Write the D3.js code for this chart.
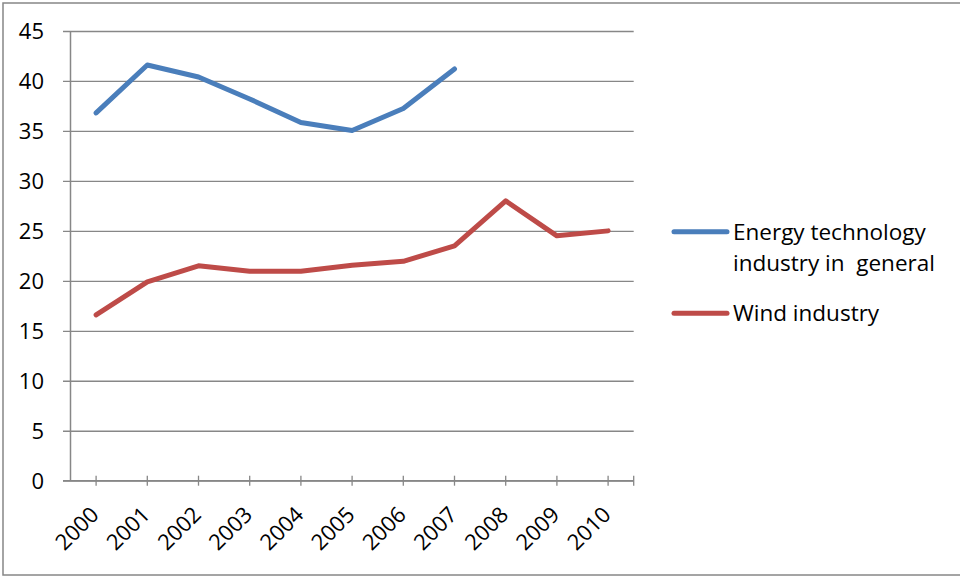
<!DOCTYPE html>
<html>
<head>
<meta charset="utf-8">
<script src="https://cdn.jsdelivr.net/npm/d3@7"></script>
<style>
  html, body { margin: 0; padding: 0; background: #fff; }
  svg { display: block; }
  text { font-family: "Open Sans", sans-serif; fill: #000; }
</style>
</head>
<body>
<svg id="chart" width="960" height="577"></svg>
<script>
const years = ["2000","2001","2002","2003","2004","2005","2006","2007","2008","2009","2010"];
const energyValues = [36.8, 41.6, 40.4, 38.2, 35.85, 35.05, 37.25, 41.2, null, null, null];
const windValues = [16.6, 19.9, 21.5, 20.95, 20.95, 21.55, 21.95, 23.5, 28.0, 24.5, 25.0];
const yTicks = [0, 5, 10, 15, 20, 25, 30, 35, 40, 45];
const seriesNames = ["Energy technology|industry in  general", "Wind industry"];
const seriesColors = ["#4A7EBB", "#BE4B48"];

const svg = d3.select("#chart");
const gridColor = "#878787";

// outer border
svg.append("rect")
  .attr("x", 3).attr("y", 3).attr("width", 970).attr("height", 572)
  .attr("fill", "none").attr("stroke", gridColor).attr("stroke-width", 1.5);

const x = d3.scaleBand().domain(years).range([70.5, 633.7]);
const y = d3.scaleLinear().domain([0, 45]).range([480.7, 31]);
const cx = d => x(d) + x.bandwidth() / 2;

// gridlines + y ticks
const yAxis = d3.axisLeft(y).tickValues(yTicks).tickSize(7).tickFormat("");
const gy = svg.append("g").attr("transform", "translate(70,0)").call(yAxis);
gy.select(".domain").remove();
gy.selectAll(".tick line").attr("stroke", gridColor).attr("stroke-width", 1.3)
  .attr("x1", 633.7 - 70).attr("x2", -7);

// y axis line
svg.append("line")
  .attr("x1", 70.5).attr("x2", 70.5).attr("y1", y(45)).attr("y2", y(0))
  .attr("stroke", gridColor).attr("stroke-width", 1.5);

// y labels
svg.append("g").selectAll("text").data(yTicks).join("text")
  .attr("x", 44).attr("y", d => y(d) + 2)
  .attr("text-anchor", "end").attr("dominant-baseline", "middle")
  .style("font-size", "22px")
  .text(d => d);

// x axis line + ticks
svg.append("line")
  .attr("x1", 63).attr("x2", 633.7).attr("y1", y(0)).attr("y2", y(0))
  .attr("stroke", gridColor).attr("stroke-width", 1.5);
const xTickPos = years.map(cx).concat([633.7]);
svg.append("g").selectAll("line").data(xTickPos).join("line")
  .attr("x1", d => d).attr("x2", d => d)
  .attr("y1", y(0) - 5).attr("y2", y(0) + 5)
  .attr("stroke", gridColor).attr("stroke-width", 1.3);

// x labels
svg.append("g").selectAll("text").data(years).join("text")
  .attr("transform", d => `translate(${cx(d) + 4},516) rotate(-45)`)
  .attr("text-anchor", "end")
  .style("font-size", "22px")
  .text(d => d);

// lines
const line = d3.line()
  .defined(d => d.v !== null)
  .x(d => cx(d.year)).y(d => y(d.v));
[energyValues, windValues].forEach((vals, i) => {
  const data = years.map((yr, j) => ({ year: yr, v: vals[j] }));
  svg.append("path").datum(data)
    .attr("d", line)
    .attr("fill", "none")
    .attr("stroke", seriesColors[i])
    .attr("stroke-width", 5)
    .attr("stroke-linejoin", "round")
    .attr("stroke-linecap", "round");
});

// legend
const legendY = [231.7, 313.3];
seriesNames.forEach((name, i) => {
  const g = svg.append("g");
  g.append("line")
    .attr("x1", 674).attr("x2", 727)
    .attr("y1", legendY[i]).attr("y2", legendY[i])
    .attr("stroke", seriesColors[i]).attr("stroke-width", 5)
    .attr("stroke-linecap", "round");
  const lines = name.split("|");
  const t = g.append("text")
    .attr("x", 733).attr("y", legendY[i] + 8)
    .style("font-size", "22.5px")
    .style("white-space", "pre");
  lines.forEach((ln, k) => {
    t.append("tspan").attr("x", 733).attr("dy", k === 0 ? 0 : 31.5).text(ln);
  });
});
</script>
</body>
</html>
